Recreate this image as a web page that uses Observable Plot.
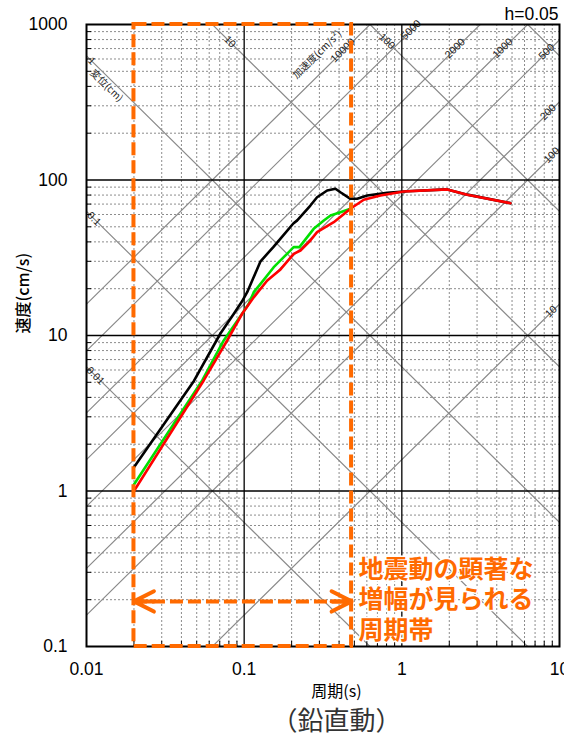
<!DOCTYPE html>
<html><head><meta charset="utf-8">
<script src="https://cdn.jsdelivr.net/npm/d3@7"></script>
<script src="https://cdn.jsdelivr.net/npm/@observablehq/plot@0.6"></script>
<style>body{margin:0;background:#fff}</style>
</head><body><div id="chart"></div>
<script>
// ---- data ----
const xTicks = [0.01, 0.1, 1, 10];
const xTickLabels = ["0.01", "0.1", "1", "10"];
const yTicks = [0.1, 1, 10, 100, 1000];
const yTickLabels = ["0.1", "1", "10", "100", "1000"];
const dispLines = [0.01, 0.1, 1, 10, 100, 1000];          // cm
const accLines = [10, 100, 200, 500, 1000, 2000, 5000, 10000]; // cm/s2
const dispLabels = ["1", "0.1", "0.01", "10", "100"];
const accLabels = ["10000", "5000", "2000", "1000", "500", "200", "100", "10"];
const blackCurve = [[0.02,1.42],[0.048,5.1],[0.0707,10.3],[0.086,13.8],[0.097,16.6],[0.1045,19.0],[0.127,30.0],[0.153,37.0],[0.17,42.0],[0.205,52.5],[0.217,55.0],[0.263,68.5],[0.29,77.5],[0.336,85.6],[0.379,87.8],[0.408,83.4],[0.472,75.7],[0.521,75.7],[0.603,79.5],[0.807,82.6],[1.08,84.7],[1.94,87],[2.6,80.5],[4.88,71]];
const greenCurve = [[0.02,1.10],[0.0542,5.14],[0.0742,9.29],[0.0971,13.8],[0.107,16.0],[0.115,19.0],[0.127,21.5],[0.154,27.5],[0.17,30.4],[0.187,33.5],[0.206,37.0],[0.224,37.0],[0.276,48.5],[0.32,54.9],[0.353,59.1],[0.408,62.1],[0.472,65.3]];
const redCurve = [[0.02,1.0],[0.0554,5.14],[0.078,9.29],[0.0971,13.8],[0.115,17.6],[0.14,22.6],[0.17,26.6],[0.206,33.5],[0.2275,35.2],[0.263,40.8],[0.29,46.2],[0.37,53.5],[0.472,65.3],[0.5735,74.6],[0.7318,79.5],[1.028,84.3],[1.94,87],[2.6,80.3],[4.88,70.9]];
const bandPeriods = [0.02, 0.48];
const arrowVelocity = 0.195;
const annotation = "地震動の顕著な\n増幅が見られる\n周期帯";
const hLabel = "h=0.05";
const xTitle = "周期(s)";
const yTitle = "速度(cm/s)";
const caption = "（鉛直動）";
const dispUnit = "変位(cm)";
const accUnit = "加速度(cm/s²)";

// ---- layout ----
const W = 564, H = 737, ML = 86, MR = 5, MT = 24, MB = 91;
const innerW = W - ML - MR, innerH = H - MT - MB;
const xDom = [0.01, 10], yDom = [0.1, 1000];
const TWO_PI = 2 * Math.PI;
const dispV = (D, T) => TWO_PI * D / T;
const accV = (A, T) => A * T / TWO_PI;
const ORANGE = "#ff6a00";
const JP = "'Noto Sans CJK JP', sans-serif";
const LAT = "'Liberation Sans', Arial, sans-serif";

const minorX = [0.01, 0.1, 1].flatMap(d => [2,3,4,5,6,7,8,9].map(k => +(k*d).toPrecision(3)));
const minorY = [0.1, 1, 10, 100].flatMap(d => [2,3,4,5,6,7,8,9].map(k => +(k*d).toPrecision(3)));

const diagPts = [];
dispLines.forEach(D => xDom.forEach(T => diagPts.push({T, V: dispV(D, T), id: "d" + D})));
accLines.forEach(A => xDom.forEach(T => diagPts.push({T, V: accV(A, T), id: "a" + A})));

// label placement (period along the line, vertical offset in px)
const dispLabelPos = {"1": [0.01087, -8], "0.1": [0.01124, -7], "0.01": [0.01149, -8.5], "10": [0.0818, -6], "100": [0.8105, -6]};
const accLabelPos = {"10000": [0.4257, -8], "5000": [1.152, 10], "2000": [2.19, -8.5], "1000": [4.39, -8], "500": [8.34, -10], "200": [8.52, -7], "100": [9.0, -9], "10": [8.9, -10]};
const dLab = dispLabels.map(t => {const [T, dy] = dispLabelPos[t]; return {t, T, V: dispV(+t, T), dy};});
const aLab = accLabels.map(t => {const [T, dy] = accLabelPos[t]; return {t, T, V: accV(+t, T), dy};});
const ang = Math.atan((innerH/4)/(innerW/3)) * 180 / Math.PI;

// arrowheads: arrows from the band's middle to each end, shaft mostly inset away
const bandMid = Math.sqrt(bandPeriods[0] * bandPeriods[1]);
const halfLenPx = Math.log10(bandPeriods[1] / bandPeriods[0]) / 2 * innerW / 3;
const headOpts = {stroke: ORANGE, strokeWidth: 4, headLength: 8.4, headAngle: 54, insetStart: halfLenPx - 20};

const chart = Plot.plot({
  width: W, height: H,
  marginLeft: ML, marginRight: MR, marginTop: MT, marginBottom: MB,
  x: {type: "log", domain: xDom},
  y: {type: "log", domain: yDom},
  style: {fontFamily: LAT, color: "black", background: "white"},
  marks: [
    Plot.ruleX(minorX, {stroke: "#8c8c8c", strokeWidth: 1, strokeDasharray: "2,2"}),
    Plot.ruleY(minorY, {stroke: "#8c8c8c", strokeWidth: 1, strokeDasharray: "2,2"}),
    Plot.line(diagPts, {x: "T", y: "V", z: "id", stroke: "#8a8a8a", strokeWidth: 1.2, clip: true}),
    Plot.ruleX([0.1, 1], {stroke: "black", strokeWidth: 1.3}),
    Plot.ruleY([1, 10, 100], {stroke: "black", strokeWidth: 1.3}),
    Plot.tickY(minorY, {stroke: "black", strokeWidth: 1, insetRight: innerW - 5}),
    Plot.tickX(minorX, {stroke: "black", strokeWidth: 1, insetTop: innerH - 5}),
    Plot.text(dLab, {x: "T", y: "V", text: "t", dy: "dy", rotate: ang, fontSize: 10.5, fill: "#222"}),
    Plot.text(aLab, {x: "T", y: "V", text: "t", dy: "dy", rotate: -ang, fontSize: 10.5, fill: "#222"}),
    Plot.text([dispUnit], {x: 0.01339, y: dispV(1, 0.01339), dy: 10, rotate: ang, fontSize: 10, fontFamily: JP, fill: "#222"}),
    Plot.text([accUnit], {x: 0.2904, y: accV(10000, 0.2904), dy: -22, rotate: -ang, fontSize: 10, fontFamily: JP, fill: "#222"}),
    Plot.line(blackCurve, {x: d => d[0], y: d => d[1], stroke: "black", strokeWidth: 2.6}),
    Plot.line(greenCurve, {x: d => d[0], y: d => d[1], stroke: "#00e000", strokeWidth: 2.6}),
    Plot.line(redCurve, {x: d => d[0], y: d => d[1], stroke: "#ff0000", strokeWidth: 2.6}),
    Plot.frame({stroke: "black", strokeWidth: 2}),
    Plot.axisX(xTicks, {tickFormat: d => xTickLabels[xTicks.indexOf(d)], tickSize: 0, tickPadding: 16, fontSize: 17.5, label: null}),
    Plot.axisY(yTicks, {tickFormat: d => yTickLabels[yTicks.indexOf(d)], tickSize: 0, tickPadding: 19, fontSize: 17.5, label: null}),
    Plot.rect([0], {x1: bandPeriods[0], x2: bandPeriods[1], y1: yDom[0], y2: yDom[1], fill: "none", stroke: ORANGE, strokeWidth: 4, strokeDasharray: "13,5"}),
    Plot.link([0], {x1: bandPeriods[0], x2: bandPeriods[1], y1: arrowVelocity, y2: arrowVelocity, stroke: ORANGE, strokeWidth: 4, strokeDasharray: "13,5"}),
    Plot.arrow([0], {x1: bandMid, x2: bandPeriods[0], y1: arrowVelocity, y2: arrowVelocity, ...headOpts}),
    Plot.arrow([0], {x1: bandMid, x2: bandPeriods[1], y1: arrowVelocity, y2: arrowVelocity, ...headOpts}),
    Plot.text([annotation], {x: bandPeriods[1], y: arrowVelocity, dx: 7, dy: -3, textAnchor: "start", lineAnchor: "middle", lineHeight: 1.22, fontSize: 25, fontWeight: "bold", fontFamily: JP, fill: ORANGE, stroke: "white", strokeWidth: 3}),
    Plot.text([hLabel], {frameAnchor: "top-right", textAnchor: "end", lineAnchor: "middle", dx: -1, dy: -10, fontSize: 17.5}),
    Plot.text([xTitle], {frameAnchor: "bottom", lineAnchor: "middle", dx: 13.5, dy: 45, fontSize: 16, fontFamily: JP}),
    Plot.text([caption], {frameAnchor: "bottom", lineAnchor: "middle", dx: 13.5, dy: 75, fontSize: 26, fontFamily: JP, fill: "#333"}),
    Plot.text([yTitle], {frameAnchor: "left", rotate: -90, lineAnchor: "middle", dx: -62.5, dy: -2, fontSize: 16, fontFamily: JP, fontWeight: 500})
  ]
});
document.getElementById("chart").appendChild(chart);
</script>
</body></html>
